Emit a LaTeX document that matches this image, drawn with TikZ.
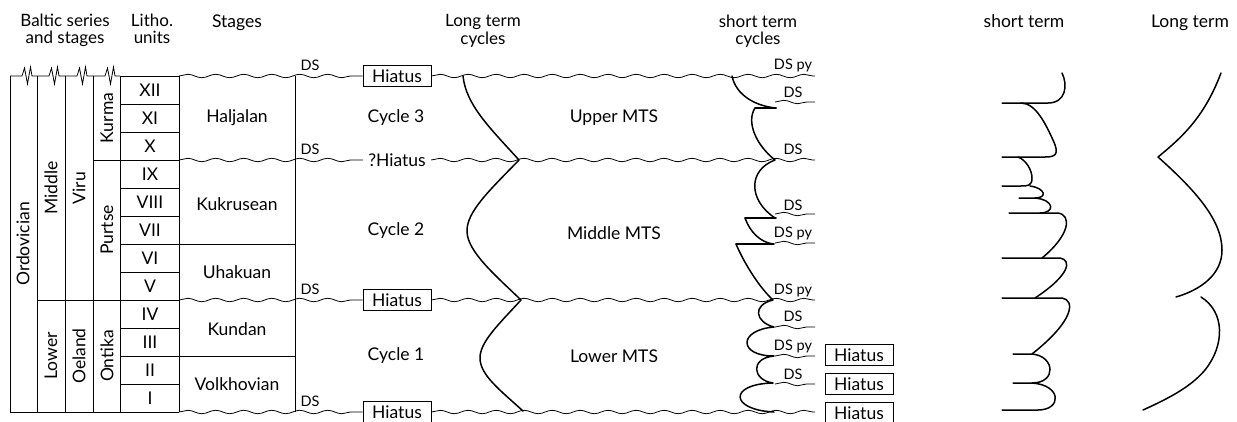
\documentclass[tikz,border=0pt]{standalone}
\usepackage{fontspec}
\setmainfont{Lato}
\usetikzlibrary{decorations.pathmorphing}
\begin{document}
\begin{tikzpicture}[x=1pt,y=-1pt,
  tbl/.style={line width=0.8pt},
  wave/.style={line width=0.8pt,decorate,decoration={snake,segment length=28pt,amplitude=1.7pt}},
  crv/.style={line width=1.5pt,line join=round,line cap=round},
  txt/.style={font=\fontsize{17.5}{17}\selectfont,inner sep=0pt},
  head/.style={font=\fontsize{17}{17.5}\selectfont,inner sep=0pt,align=center,anchor=north},
  small/.style={font=\fontsize{14.5}{14}\selectfont,inner sep=0pt},
  hbox/.style={draw,line width=0.8pt,minimum width=68pt,minimum height=21pt,inner sep=0pt,font=\fontsize{17.5}{17}\selectfont},
  gap/.style={minimum width=68pt,minimum height=21pt,inner sep=0pt,font=\fontsize{17.5}{17}\selectfont}
]
\useasboundingbox (0,0) rectangle (1237,421);
% headers
\node[head] (hd1) at (65,13.5) {Baltic series\\and stages};
\node[head] (hd2) at (152,13.5) {Litho.\\units};
\node[txt,anchor=base] (hd3) at (237,27) {Stages};
\node[head] (hd4) at (483,14.5) {Long term\\cycles};
\node[head] (hd5) at (758,14.5) {short term\\cycles};
\node[txt,anchor=base] (hd6) at (1024,27) {short term};
\node[txt,anchor=base] (hd7) at (1190,27) {Long term};
% table verticals
\foreach \x in {10,37,65,93,120,179,295} \draw[tbl] (\x,76) -- (\x,412);
\draw[tbl] (10,412) -- (179,412);
\draw[tbl] (120,76) -- (179,76);
\foreach \a/\b in {10/37,37/65,65/93,93/120}
  \draw[tbl,line join=miter] (\a,76) -- (\a+12,76) -- (\a+14.5,68) -- (\a+17.5,84) -- (\a+20.5,67) -- (\a+22,76) -- (\b,76);
\draw[tbl] (37,300) -- (179,300);
\draw[tbl] (93,160) -- (179,160);
\foreach \y in {104,132,188,216,272,328,384} \draw[tbl] (120,\y) -- (179,\y);
\draw[tbl] (120,244) -- (295,244);
\draw[tbl] (120,356) -- (295,356);
% rotated labels
\node[txt,rotate=90] (ordo) at (23,244) {Ordovician};
\node[txt,rotate=90] (midd) at (51,188) {Middle};
\node[txt,rotate=90] (lowr) at (51,356) {Lower};
\node[txt,rotate=90] (viru) at (79,188) {Viru};
\node[txt,rotate=90] (oela) at (79,356) {Oeland};
\node[txt,rotate=90] (kurm) at (107,118) {Kurma};
\node[txt,rotate=90] (purt) at (107,230) {Purtse};
\node[txt,rotate=90] (onti) at (107,356) {Ontika};
% roman numerals
\foreach \n/\y in {XII/90,XI/118,X/146,IX/174,VIII/202,VII/230,VI/258,V/286,IV/314,III/342,II/370,I/398}
  \node[txt] (r\n) at (150,\y) {\n};
% stages
\node[txt] (st1) at (237,118) {Haljalan};
\node[txt] (st2) at (237,204) {Kukrusean};
\node[txt] (st3) at (237,272) {Uhakuan};
\node[txt] (st4) at (237,329) {Kundan};
\node[txt] (st5) at (237,384) {Volkhovian};
% hiatus
\node[hbox] (hA) at (397,76) {Hiatus};
\node[gap] (hB) at (397,160) {?Hiatus};
\node[hbox] (hC) at (397,300) {Hiatus};
\node[hbox] (hD) at (397,412) {Hiatus};
\node[hbox] (hE) at (859,355) {Hiatus};
\node[hbox] (hF) at (859,384) {Hiatus};
\node[hbox] (hG) at (859,413) {Hiatus};
% waves
\draw[wave] (179,76) -- (hA.west); \draw[wave] (hA.east) -- (815,76);
\draw[wave] (179,160) -- (hB.west); \draw[wave] (hB.east) -- (815,160);
\draw[wave] (179,300) -- (hC.west); \draw[wave] (hC.east) -- (815,300);
\draw[wave] (179,412) -- (hD.west); \draw[wave] (hD.east) -- (815,412);
\foreach \y in {102,214,243,327,356,384} \draw[wave] (775,\y) -- (815,\y);
% DS labels
\foreach \y in {70,154,294,406} \node[small,anchor=base] at (310,\y) {DS};
\foreach \y/\t in {69/DS py,97/DS,154/DS,210/DS,237/DS py,294/DS py,321/DS,350/DS py,379/DS}
  \node[small,anchor=base] at (793,\y) {\t};
% cycle labels
\node[txt] (cy3) at (396,118) {Cycle 3};
\node[txt] (cy2) at (396,231) {Cycle 2};
\node[txt] (cy1) at (396,356) {Cycle 1};
\node[txt] (mt3) at (614,118) {Upper MTS};
\node[txt] (mt2) at (614,233) {Middle MTS};
\node[txt] (mt1) at (614,356) {Lower MTS};
% long term curve (middle)
\draw[crv] (463,76) .. controls (466,105) and (490,128) .. (519,160)
  .. controls (490,190) and (466,212) .. (467,232)
  .. controls (468,252) and (495,275) .. (521,300)
  .. controls (498,325) and (480,342) .. (480,358)
  .. controls (480,375) and (500,390) .. (523,411);
% short term curve (middle)
\draw[crv] (732,76) .. controls (736,95) and (755,106) .. (776,108);
\draw[crv] (755,108) -- (776,108);
\draw[crv] (755,108) .. controls (746,122) and (756,145) .. (775,160)
  .. controls (748,170) and (748,200) .. (775,218);
\draw[crv] (745,218) -- (776,218);
\draw[crv] (745,218) .. controls (750,232) and (760,242) .. (773,244);
\draw[crv] (736,244) -- (774,244);
\draw[crv] (736,244) .. controls (745,265) and (760,288) .. (773,300)
  .. controls (752,305) and (755,322) .. (774,327)
  .. controls (738,330) and (738,356) .. (774,356)
  .. controls (750,358) and (752,380) .. (773,383)
  .. controls (728,384) and (730,410) .. (774,412);
% right panel: short term
\draw[crv] (1062,73) .. controls (1068,85) and (1066,103) .. (1048,103) -- (1002,103);
\draw[crv] (1021,103) .. controls (1036,103) and (1046,125) .. (1053,140) .. controls (1060,155) and (1055,157) .. (1045,157) -- (1002,157);
\draw[crv] (1018,157) .. controls (1026,160) and (1032,170) .. (1032,178) .. controls (1032,186) and (1028,186) .. (1020,186) -- (1002,186);
\draw[crv] (1030,186) .. controls (1045,188) and (1048,198) .. (1035,198) -- (1019,198);
\draw[crv] (1035,198) .. controls (1055,200) and (1055,213) .. (1040,213);
\draw[crv] (1009,213) -- (1058,213) .. controls (1072,215) and (1070,235) .. (1042,258);
\draw[crv] (1002,258) -- (1060,258) .. controls (1072,260) and (1070,275) .. (1035,298);
\draw[crv] (1002,298) -- (1062,298) .. controls (1075,300) and (1075,320) .. (1032,354);
\draw[crv] (1013,354) -- (1032,354) .. controls (1055,356) and (1057,383) .. (1032,383);
\draw[crv] (1013,383) -- (1032,383) .. controls (1062,385) and (1062,410) .. (1038,410) -- (1002,410);
% right panel: long term
\draw[crv] (1221,73) .. controls (1205,115) and (1185,135) .. (1158,157)
  .. controls (1195,190) and (1222,220) .. (1222,250) .. controls (1222,275) and (1200,290) .. (1176,297);
\draw[crv] (1201,297) .. controls (1225,312) and (1225,345) .. (1205,370) .. controls (1190,388) and (1165,400) .. (1143,410);
\end{tikzpicture}
\end{document}
